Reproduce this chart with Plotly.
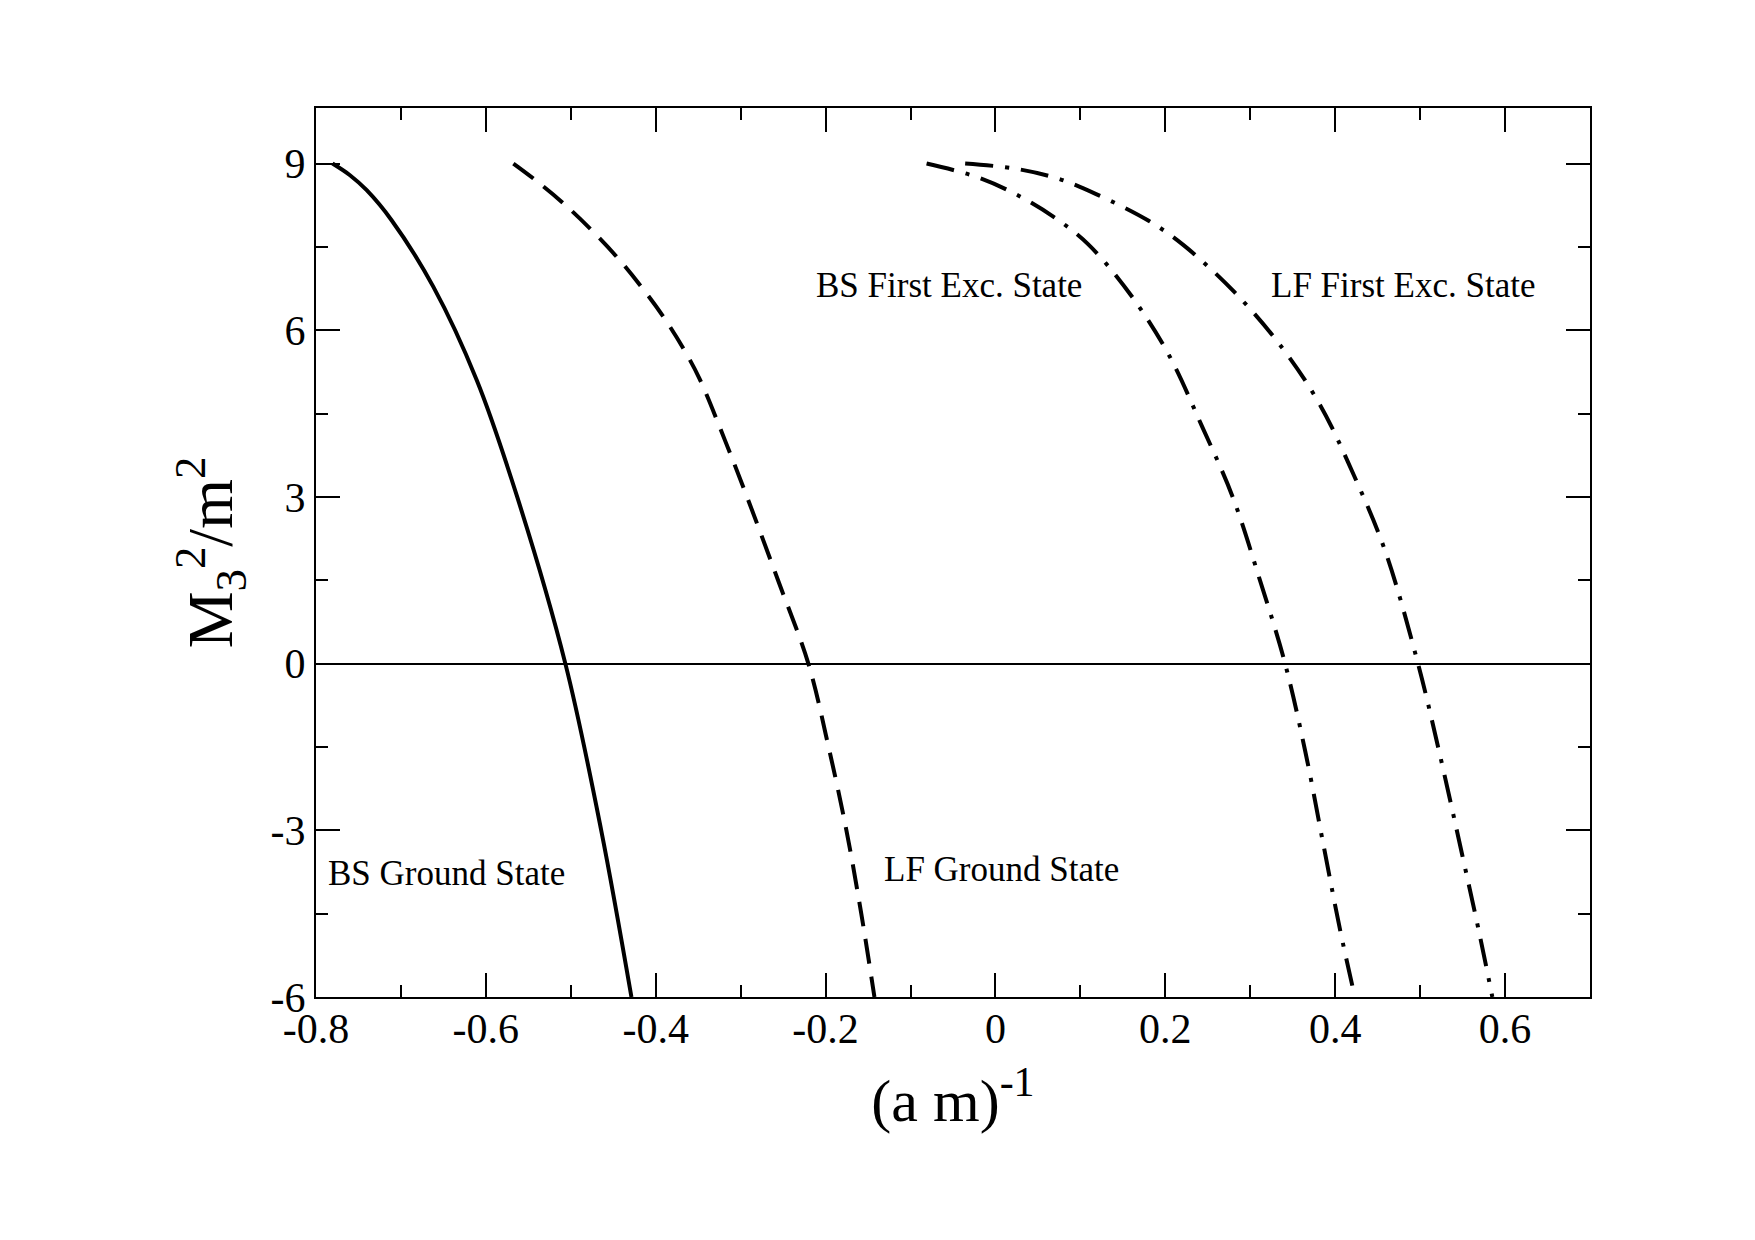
import plotly.graph_objects as go

# ---------------- data ----------------
BS_GROUND_X = [-0.7806, -0.7600, -0.7403, -0.7110, -0.6618, -0.6107, -0.5631, -0.5064, -0.4642, -0.4286]
BS_GROUND_Y = [9.0, 8.79, 8.52, 7.98, 6.78, 5.10, 3.0, 0.0, -3.0, -6.0]

LF_GROUND_X = [-0.5676, -0.5440, -0.5106, -0.4773, -0.4458, -0.4184, -0.3909, -0.3674, -0.3485,
               -0.3180, -0.2925, -0.2560, -0.2203, -0.1965, -0.1755, -0.1580, -0.1425]
LF_GROUND_Y = [9.0, 8.73, 8.31, 7.83, 7.32, 6.81, 6.24, 5.67, 5.13,
               4.0, 3.0, 1.5, 0.0, -1.5, -3.0, -4.5, -6.0]

BS_EXC_X = [-0.0811, -0.0223, 0.0225, 0.0676, 0.1090, 0.1600, 0.2040, 0.2432, 0.2793, 0.3108,
            0.3410, 0.3649, 0.3860, 0.4060, 0.4232]
BS_EXC_Y = [9.0, 8.76, 8.46, 8.05, 7.55, 6.62, 5.56, 4.27, 3.00, 1.53,
            0.0, -1.59, -3.25, -4.81, -6.0]

LF_EXC_X = [-0.0357, 0.0225, 0.0734, 0.1185, 0.1804, 0.2207, 0.2818, 0.3378, 0.3820, 0.4220,
            0.4590, 0.4975, 0.5225, 0.5495, 0.5705, 0.5850]
LF_EXC_Y = [9.0, 8.91, 8.73, 8.45, 7.97, 7.54, 6.68, 5.68, 4.66, 3.39,
            2.02, 0.0, -1.59, -3.44, -4.91, -6.0]

X_TICK_VALS = [-0.8, -0.6, -0.4, -0.2, 0.0, 0.2, 0.4, 0.6]
X_TICK_TEXT = ["-0.8", "-0.6", "-0.4", "-0.2", "0", "0.2", "0.4", "0.6"]
Y_TICK_VALS = [-6, -3, 0, 3, 6, 9]
Y_TICK_TEXT = ["-6", "-3", "0", "3", "6", "9"]

LABEL_TEXT = ["BS Ground State", "LF Ground State", "BS First Exc. State", "LF First Exc. State"]
LABEL_X = [-0.788, -0.134, -0.214, 0.322]
LABEL_Y = [-3.77, -3.71, 6.80, 6.80]

# ---------------- figure ----------------
FONT = "Liberation Serif, Times New Roman, serif"

fig = go.Figure()
fig.add_trace(go.Scatter(x=BS_GROUND_X, y=BS_GROUND_Y, mode="lines",
                         line=dict(color="black", width=4, shape="spline", smoothing=1.0)))
fig.add_trace(go.Scatter(x=LF_GROUND_X, y=LF_GROUND_Y, mode="lines",
                         line=dict(color="black", width=4, shape="spline", smoothing=1.0, dash="25px,13px")))
fig.add_trace(go.Scatter(x=BS_EXC_X, y=BS_EXC_Y, mode="lines",
                         line=dict(color="black", width=4, shape="spline", smoothing=1.0,
                                   dash="28px,12px,4px,12px")))
fig.add_trace(go.Scatter(x=LF_EXC_X, y=LF_EXC_Y, mode="lines",
                         line=dict(color="black", width=4, shape="spline", smoothing=1.0,
                                   dash="28px,12px,4px,12px")))

for t, x, y in zip(LABEL_TEXT, LABEL_X, LABEL_Y):
    fig.add_annotation(x=x, y=y, text=t, showarrow=False, xanchor="left", yanchor="middle",
                       font=dict(family=FONT, size=35, color="black"))

axis_common = dict(
    showline=True, linecolor="black", linewidth=2, mirror="allticks",
    ticks="inside", ticklen=24, tickwidth=2, tickcolor="black",
    showgrid=False, tickfont=dict(family=FONT, size=42, color="black"),
)

fig.update_xaxes(
    range=[-0.8, 0.7], tickmode="array", tickvals=X_TICK_VALS, ticktext=X_TICK_TEXT,
    minor=dict(tickmode="linear", tick0=0, dtick=0.1, ticks="inside", ticklen=12, tickwidth=2,
               tickcolor="black", showgrid=False),
    zeroline=False, ticklabelstandoff=-6,
    title=dict(text="(a m)<sup>-1</sup>", font=dict(family=FONT, size=60, color="black"), standoff=28),
    **axis_common,
)
fig.update_yaxes(
    range=[-6, 10], tickmode="array", tickvals=Y_TICK_VALS, ticktext=Y_TICK_TEXT,
    minor=dict(tickmode="linear", tick0=0, dtick=1.5, ticks="inside", ticklen=12, tickwidth=2,
               tickcolor="black", showgrid=False),
    zeroline=True, zerolinecolor="black", zerolinewidth=1.5, ticklabelstandoff=0,
    title=dict(text="M<sub>3</sub><sup>2</sup>/m<sup>2</sup>", font=dict(family=FONT, size=64, color="black"),
               standoff=17),
    **axis_common,
)

fig.update_layout(
    width=1755, height=1240,
    margin=dict(l=316, r=165, t=108, b=243, autoexpand=False),
    paper_bgcolor="white", plot_bgcolor="white",
    showlegend=False,
)

fig.write_html("out.html")
